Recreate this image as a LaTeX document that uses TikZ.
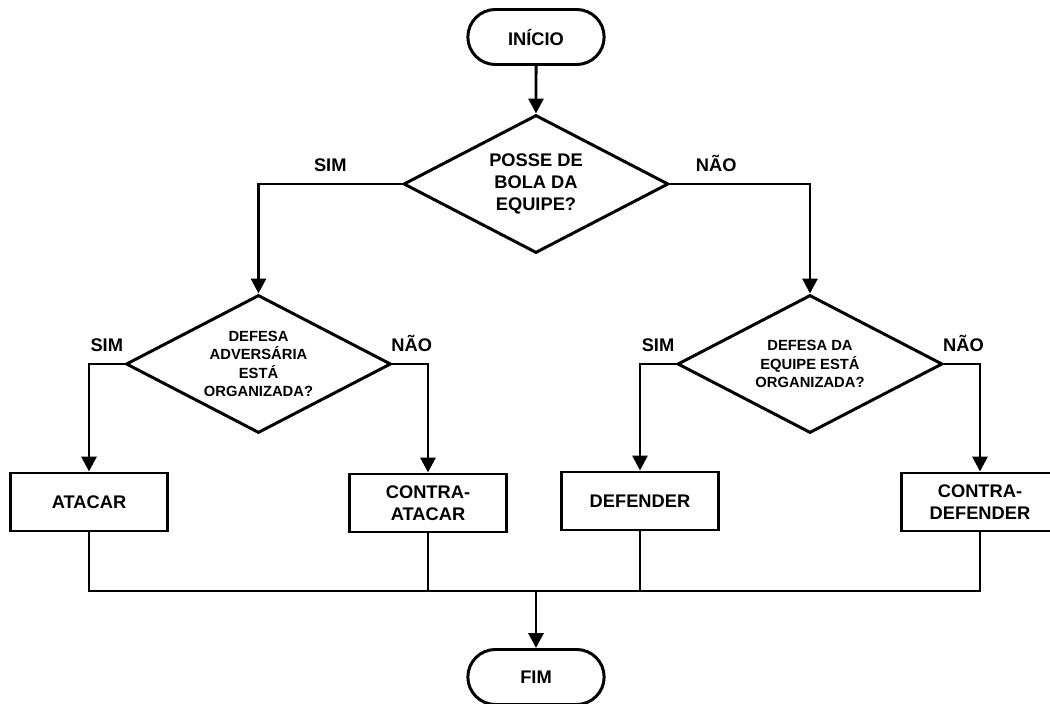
\documentclass[tikz,border=0pt]{standalone}
\usepackage{fontspec}
\setmainfont{Liberation Sans}
\usetikzlibrary{arrows.meta,positioning,shapes.geometric,shapes.misc}

\begin{document}
\begin{tikzpicture}[>={Triangle[length=8.5pt,width=8.5pt]},line width=1.7pt,
   font=\fontsize{10.4}{12.3}\selectfont\bfseries,
   term/.style={draw,rounded rectangle,minimum width=2.96cm,minimum height=1.1cm},
   decision/.style={draw,diamond,aspect=1.92,inner sep=0pt,minimum width=5.3cm,minimum height=2.76cm,
     align=center,font=\fontsize{8.4}{10.5}\selectfont\bfseries},
   action/.style={draw,minimum width=3.14cm,minimum height=1.16cm,align=center},
   answer/.style={anchor=base,yshift=0.24cm}]
  \useasboundingbox (0,0) rectangle (21,14.08);
  % start and first question
  \node[term] (ini) at (10.72,13.34) {INÍCIO};
  \node[decision,font=\fontsize{10.4}{12.3}\selectfont\bfseries] (posse) at (10.72,10.4) {POSSE DE\\BOLA DA\\EQUIPE?};
  % second level questions
  \node[decision] (adv) at (5.17,6.8) {DEFESA\\ADVERSÁRIA\\ESTÁ\\ORGANIZADA?};
  \node[decision] (eqp) at (16.2,6.8) {DEFESA DA\\EQUIPE ESTÁ\\ORGANIZADA?};
  % actions
  \node[action] (atacar) at (1.78,4.04) {ATACAR};
  \node[action] (catacar) at (8.56,4.02) {CONTRA-\\ATACAR};
  \node[action] (defender) at (12.8,4.06) {DEFENDER};
  \node[action] (cdefender) at (19.6,4.04) {CONTRA-\\DEFENDER};
  % end (cut by the bottom edge)
  \node[term] (fim) at (10.72,0.54) {FIM};
  \coordinate (join) at (10.72,2.26);

  \draw[->] (ini) -- (posse);
  \draw[->] (posse.west) -| node[answer,pos=0.25]{SIM} (adv.north);
  \draw[->] (posse.east) -| node[answer,pos=0.165]{NÃO} (eqp.north);
  \draw[->] (adv.west) -| node[answer,pos=0.25]{SIM} (atacar.north);
  \draw[->] (adv.east) -| node[answer,pos=0.27]{NÃO} (catacar.north);
  \draw[->] (eqp.west) -| node[answer,pos=0.25]{SIM} (defender.north);
  \draw[->] (eqp.east) -| node[answer,pos=0.27]{NÃO} (cdefender.north);
  % all actions meet on one line towards the end
  \draw (atacar.south) |- (join);
  \draw (cdefender.south) |- (join);
  \draw (catacar.south) -- (catacar.south |- join);
  \draw (defender.south) -- (defender.south |- join);
  \draw[->] (join) -- (fim.north);
\end{tikzpicture}
\end{document}
